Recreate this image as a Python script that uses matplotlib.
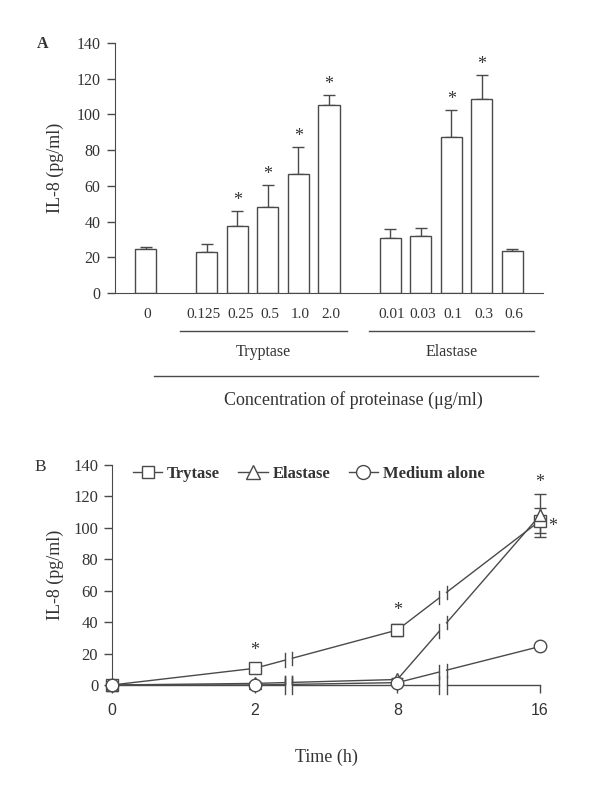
import numpy as np
import matplotlib.pyplot as plt
from matplotlib.lines import Line2D

plt.rcParams['font.family'] = ['Liberation Serif', 'DejaVu Serif']

# ---- Panel A data ----
conc_labels = ['0', '0.125', '0.25', '0.5', '1.0', '2.0',
               '0.01', '0.03', '0.1', '0.3', '0.6']
conc_pos = [0, 2, 3, 4, 5, 6, 8, 9, 10, 11, 12]
il8_conc = [24.7, 23.2, 37.6, 48.3, 66.6, 105.2, 30.7, 32.0, 87.6, 108.6, 23.6]
il8_conc_err = [1.3, 4.5, 8.1, 12.1, 15.2, 5.4, 5.4, 4.6, 14.8, 13.2, 0.9]
conc_signif = [False, False, True, True, True, True, False, False, True, True, False]
groups = ['Tryptase', 'Elastase']
group_span = [(1.13, 6.6), (7.3, 12.7)]

# ---- Panel B data ----
time_labels = ['0', '2', '8', '16']
time_pos = [0, 1, 2, 3]
trytase = [0.0, 10.6, 35.0, 104.5]
trytase_err = [0.5, 1.0, 3.8, 8.0]
elastase = [0.0, 1.0, 3.5, 108.0]
elastase_err = [0.5, 0.8, 1.0, 13.5]
medium = [0.0, 0.0, 1.5, 24.5]
medium_err = [0.5, 1.5, 0.5, 0.5]
breaks = [1.24, 2.32]

ink = '#333333'
line_c = '#4a4a4a'

fig = plt.figure(figsize=(6, 7.93), dpi=100)

# ================= Panel A =================
axA = fig.add_axes([0.1917, 0.6305, 0.7133, 0.3153])
axA.bar(conc_pos, il8_conc, width=0.69, color='white', edgecolor=line_c, linewidth=1.0, zorder=2)
axA.errorbar(conc_pos, il8_conc, yerr=[np.zeros(len(il8_conc)), il8_conc_err], fmt='none',
             ecolor=line_c, elinewidth=1.0, capsize=4, capthick=1.0, zorder=1)
for x, v, e, s in zip(conc_pos, il8_conc, il8_conc_err, conc_signif):
    if s:
        axA.text(x, v + e + 6.0, '*', ha='center', va='center', fontsize=13, color=ink)

axA.set_xlim(-1, 13)
axA.set_ylim(0, 140)
axA.set_yticks(range(0, 141, 20))
axA.set_xticks([])
axA.spines['top'].set_visible(False)
axA.spines['right'].set_visible(False)
for sp in ['left', 'bottom']:
    axA.spines[sp].set_color(line_c)
axA.tick_params(axis='y', direction='out', length=5.5, width=1.0, pad=5,
                labelsize=11.5, colors=line_c, labelcolor=ink)
axA.set_ylabel('IL-8 (pg/ml)', fontsize=13, color=ink)
axA.yaxis.set_label_coords(-0.12, 0.5)

# small nudges so the crowded labels keep apart, as in the original
nudge = {'0.125': -0.12, '0.25': 0.1}
for x, lab in zip(conc_pos, conc_labels):
    axA.text(x + nudge.get(lab, 0.05), -12.3, lab, ha='center', va='center', fontsize=11,
             color=ink, clip_on=False)
for g, (a, b) in zip(groups, group_span):
    axA.plot([a, b], [-21.3, -21.3], color=line_c, lw=1.0, clip_on=False)
    axA.text((a + b) / 2, -33.0, g, ha='center', va='center', fontsize=11.5, color=ink, clip_on=False)
axA.plot([0.28, 12.84], [-46.5, -46.5], color=line_c, lw=1.0, clip_on=False)
axA.text(6.8, -60, 'Concentration of proteinase (\u03bcg/ml)', ha='center', va='center',
         fontsize=13, color=ink, clip_on=False)
fig.text(43 / 600, 1 - 44 / 793, 'A', fontsize=11.5, fontweight='bold', color=ink,
         ha='center', va='center')

# ================= Panel B =================
axB = fig.add_axes([0.1867, 0.1362, 0.7133, 0.2774])
gap = 0.025


def broken(xs, ys):
    # insert line breaks (gap) at each break position
    bx, by = [], []
    for i in range(len(xs) - 1):
        bx.append(xs[i]); by.append(ys[i])
        for b in breaks:
            if xs[i] < b < xs[i + 1]:
                yl = np.interp(b - gap, xs, ys)
                yr = np.interp(b + gap, xs, ys)
                bx += [b - gap, np.nan, b + gap]
                by += [yl, np.nan, yr]
    bx.append(xs[-1]); by.append(ys[-1])
    return np.array(bx), np.array(by)


series = [(trytase, trytase_err, 's', 'Trytase', 8),
          (elastase, elastase_err, '^', 'Elastase', 9),
          (medium, medium_err, 'o', 'Medium alone', 9)]
handles = []
for vals, err, mk, lab, ms in series:
    bx, by = broken(time_pos, vals)
    axB.plot(bx, by, color=line_c, lw=1.0, zorder=2, clip_on=False)
    for b in breaks:
        for xx in (b - gap, b + gap):
            yy = np.interp(xx, time_pos, vals)
            axB.plot([xx, xx], [yy - 4.2, yy + 4.2], color=line_c, lw=1.0, zorder=2)
    axB.errorbar(time_pos, vals, yerr=err, fmt=mk, ms=ms, mfc='white', mec=line_c, mew=1.0,
                 ecolor=line_c, elinewidth=1.0, capsize=4, capthick=1.0, ls='none',
                 zorder=3, clip_on=False)
    handles.append(Line2D([], [], color=line_c, lw=1.0, marker=mk, ms=ms + 1,
                          mfc='white', mec=line_c, label=lab))

# x axis drawn with break marks
axB.spines['bottom'].set_visible(False)
axB.spines['top'].set_visible(False)
axB.spines['right'].set_visible(False)
axB.spines['left'].set_color(line_c)
ax_x = [0]
for b in breaks:
    ax_x += [b - gap, np.nan, b + gap]
ax_x.append(3)
axB.plot(ax_x, np.where(np.isnan(ax_x), np.nan, 0.0), color=line_c, lw=1.0, clip_on=False, zorder=1)
for b in breaks:
    for xx in (b - gap, b + gap):
        axB.plot([xx, xx], [-5.5, 5.5], color=line_c, lw=1.0, clip_on=False, zorder=1)

stars_B = [(1, 22.0), (2, 47.7), (3, 129.0), (3.09, 101.0)]
for x, y in stars_B:
    axB.text(x, y, '*', ha='center', va='center', fontsize=13, color=ink)

axB.set_xlim(0, 3)
axB.set_ylim(0, 140)
axB.set_yticks(range(0, 141, 20))
axB.set_xticks(time_pos, time_labels, fontfamily='Liberation Sans')
axB.tick_params(axis='y', direction='out', length=6, width=1.0, pad=4,
                labelsize=12, colors=line_c, labelcolor=ink)
axB.tick_params(axis='x', direction='out', length=6, width=1.0, pad=7,
                labelsize=11.5, colors=line_c, labelcolor=ink)
axB.set_ylabel('IL-8 (pg/ml)', fontsize=13, color=ink)
axB.yaxis.set_label_coords(-0.112, 0.5)
axB.set_xlabel('Time (h)', fontsize=13, color=ink, labelpad=22)

axB.legend(handles=handles, ncol=3, loc='center left', bbox_to_anchor=(0.049, 0.96),
           frameon=False, borderpad=0, borderaxespad=0, handlelength=1.75,
           handletextpad=0.3, columnspacing=1.1, prop={'size': 12, 'weight': 'bold'},
           labelcolor=ink)
fig.text(40 / 600, 1 - 467 / 793, 'B', fontsize=12.5, color=ink, ha='center', va='center')

fig.savefig('out.png', dpi=100, facecolor='white')
